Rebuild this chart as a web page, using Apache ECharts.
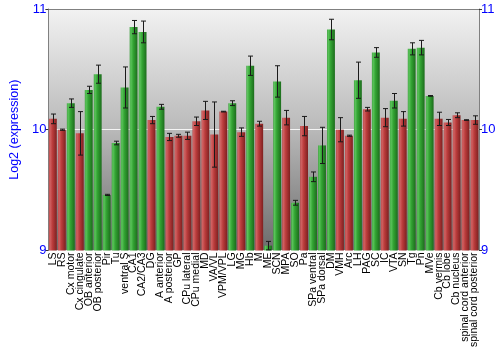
<!DOCTYPE html>
<html><head><meta charset="utf-8">
<script src="https://cdn.jsdelivr.net/npm/echarts@6/dist/echarts.min.js"></script>
<style>html,body{margin:0;padding:0;background:#fff}#c{width:500px;height:350px}</style>
</head><body><div id="c"></div>
<script>
const categories = ["LS","RS","Cx motor","Cx cingulate","OB anterior","OB posterior","Pir","Tu","ventral S","CA1","CA2/CA3","DG","A anterior","A posterior","GP","CPu lateral","CPu medial","MD","VA/VL","VPM/VPL","LG","MG","Hb","M","ME","SCN","MPA","SO","Pa","SPa ventral","SPa dorsal","DM","VMH","Arc","LH","PAG","SC","IC","VTA","SN","Tg","Pn","MVe","Cb vermis","Cb lobe","Cb nucleus","spinal cord anterior","spinal cord posterior"];
const values = [10.09,10.00,10.22,9.97,10.33,10.46,9.46,9.89,10.35,10.85,10.81,10.08,10.19,9.94,9.95,9.95,10.07,10.16,9.96,10.15,10.22,9.98,10.53,10.05,9.04,10.40,10.10,9.395,10.03,9.61,9.87,10.83,10.00,9.95,10.41,10.17,10.64,10.10,10.24,10.09,10.67,10.68,10.28,10.09,10.06,10.12,10.08,10.08];
const errors = [0.04,0.005,0.035,0.18,0.03,0.075,0.005,0.015,0.17,0.055,0.09,0.03,0.02,0.03,0.012,0.03,0.035,0.075,0.27,0.003,0.02,0.035,0.08,0.02,0.035,0.13,0.06,0.02,0.08,0.04,0.15,0.085,0.1,0.005,0.15,0.015,0.04,0.075,0.06,0.06,0.05,0.06,0.003,0.055,0.025,0.02,0.003,0.035];
const groups = ["r","r","g","r","g","g","g","g","g","g","g","r","g","r","r","r","r","r","r","r","g","r","g","r","g","g","r","g","r","g","g","g","r","r","g","r","g","r","g","r","g","g","g","r","r","r","r","r"];
const yTicks = [9, 10, 11];

const redGrad = {type:'linear',x:0,y:0,x2:1,y2:0,colorStops:[
  {offset:0,color:'#b84a4a'},{offset:0.15,color:'#d06262'},{offset:0.45,color:'#bb3c3c'},{offset:1,color:'#7e2020'}]};
const greenGrad = {type:'linear',x:0,y:0,x2:1,y2:0,colorStops:[
  {offset:0,color:'#3f9f3f'},{offset:0.15,color:'#5cc45c'},{offset:0.45,color:'#33a433'},{offset:1,color:'#1c6c1c'}]};

const barData = values.map((v,i)=>({value:v,itemStyle:{color: groups[i]==='g'?greenGrad:redGrad}}));
const errData = values.map((v,i)=>[i, v+errors[i], v-errors[i]]);

const chart = echarts.init(document.getElementById('c'), null, {renderer:'canvas'});
const font = 'Liberation Sans, Arial, sans-serif';
const axisY = (pos) => ({
  type:'value', position:pos, min:yTicks[0], max:yTicks[yTicks.length-1], interval:1, startValue:9,
  axisLine:{show:true,lineStyle:{color:'#808080',width:1}},
  axisTick:{show:true,length:3,lineStyle:{color:'#333'}},
  axisLabel:{color:'#0000ff',fontSize:13,fontFamily:font,margin:2},
  splitLine:{show:pos==='left',lineStyle:{color:'#f4f4f4',width:1}}
});
const left = axisY('left');
left.name = 'Log2 (expression)';
left.nameLocation = 'middle';
left.nameGap = 26;
left.nameTextStyle = {color:'#0000ff',fontSize:12.5,fontFamily:font};
chart.setOption({
  animation:false,
  grid:{left:34,right:21,top:9,bottom:99,show:true,borderWidth:0,
    backgroundColor:{type:'linear',x:0,y:0,x2:0,y2:1,colorStops:[
      {offset:0,color:'#f2f2f2'},{offset:0.5,color:'#b9b9b9'},{offset:1,color:'#6c6c6c'}]}},
  xAxis:[
    {type:'category',data:categories,position:'bottom',
     axisLine:{show:false},axisTick:{show:false},
     axisLabel:{rotate:90,interval:0,fontSize:10.5,color:'#000',fontFamily:font,margin:2}},
    {type:'category',data:categories,position:'top',
     axisLine:{show:true,lineStyle:{color:'#808080'}},axisTick:{show:false},axisLabel:{show:false}}
  ],
  yAxis:[left, axisY('right')],
  series:[
    {type:'bar',data:barData,barCategoryGap:'12%',xAxisIndex:0,yAxisIndex:0},
    {type:'custom',xAxisIndex:0,yAxisIndex:0,z:5,data:errData,encode:{x:0,y:[1,2]},
     renderItem:function(params, api){
       const i = api.value(0);
       const top = api.coord([i, api.value(1)]);
       const bot = api.coord([i, api.value(2)]);
       const x = Math.round(top[0]) + 0.5;
       const st = {stroke:'#1a1a1a',lineWidth:1};
       return {type:'group',children:[
         {type:'line',shape:{x1:x,y1:top[1],x2:x,y2:bot[1]},style:st},
         {type:'line',shape:{x1:x-2.5,y1:top[1],x2:x+2.5,y2:top[1]},style:st},
         {type:'line',shape:{x1:x-2.5,y1:bot[1],x2:x+2.5,y2:bot[1]},style:st}
       ]};
     }}
  ]
});
</script>
</body></html>
